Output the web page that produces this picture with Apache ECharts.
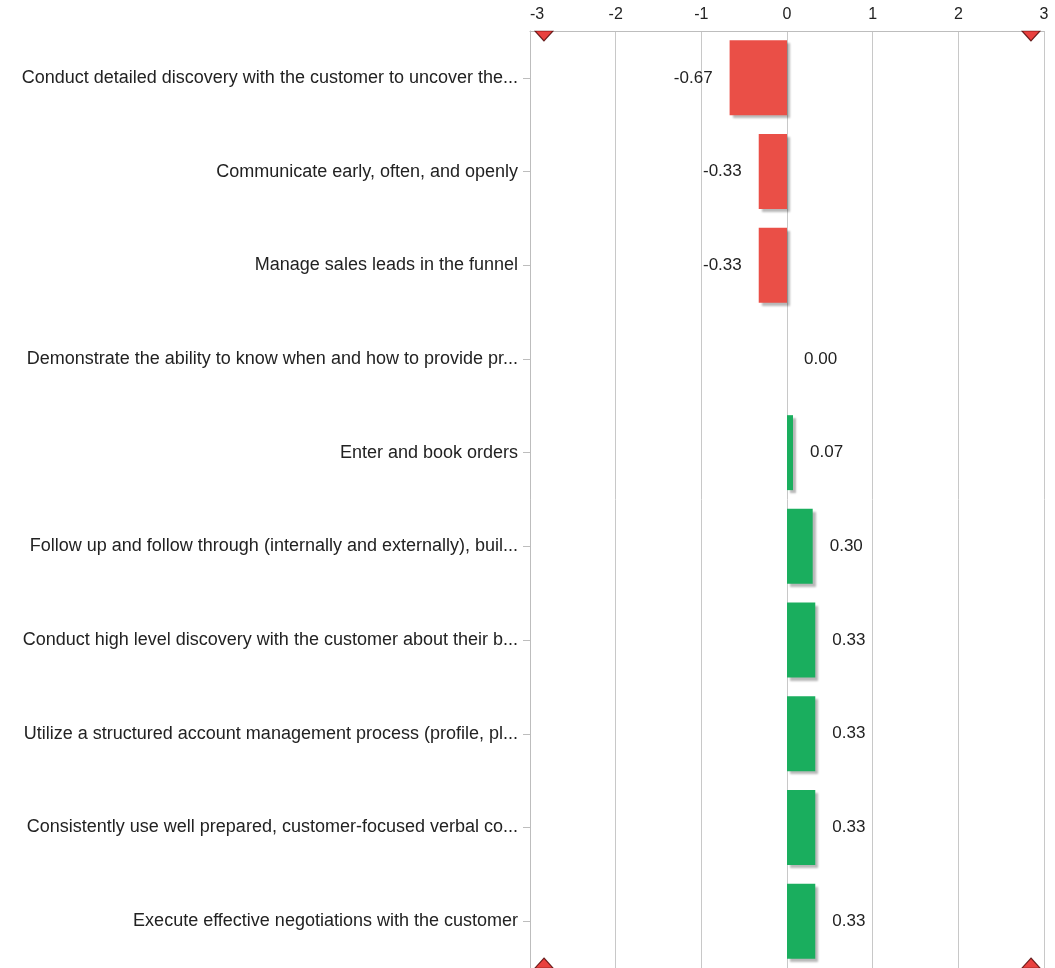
<!DOCTYPE html>
<html>
<head>
<meta charset="utf-8">
<script src="https://cdn.jsdelivr.net/npm/echarts@6/dist/echarts.min.js"></script>
<style>
  html, body { margin: 0; padding: 0; background: #fff; }
  #chart { width: 1055px; height: 968px; }
</style>
</head>
<body>
<div id="chart"></div>
<script>
// Skill gap per competency (top to bottom)
const categories = [
  'Conduct detailed discovery with the customer to uncover the...',
  'Communicate early, often, and openly',
  'Manage sales leads in the funnel',
  'Demonstrate the ability to know when and how to provide pr...',
  'Enter and book orders',
  'Follow up and follow through (internally and externally), buil...',
  'Conduct high level discovery with the customer about their b...',
  'Utilize a structured account management process (profile, pl...',
  'Consistently use well prepared, customer-focused verbal co...',
  'Execute effective negotiations with the customer'
];
const gapValues = [-0.67, -0.33, -0.33, 0.00, 0.07, 0.30, 0.33, 0.33, 0.33, 0.33];
const axisTicks = [-3, -2, -1, 0, 1, 2, 3];
const scaleEnds = [-3, 3];

const RED = '#ea4f47';
const GREEN = '#1aae5e';
const FONT = '"Liberation Sans", Arial, Helvetica, sans-serif';

const chart = echarts.init(document.getElementById('chart'), null, { renderer: 'canvas' });

const barData = gapValues.map(v => ({
  value: v,
  itemStyle: { color: v < 0 ? RED : GREEN },
  label: { position: v < 0 ? 'left' : 'right' }
}));

// end-of-scale markers, nudged just inside the plot frame
function endMarkers(yVal, up) {
  return scaleEnds.map((x, i) => ({
    value: [x, yVal],
    symbolOffset: [i === 0 ? 14 : -13, up ? -5 : 5]
  }));
}
const markerStyle = { color: '#e3120f', borderColor: '#4a0000', borderWidth: 1 };

chart.setOption({
  animation: false,
  backgroundColor: '#fff',
  grid: { left: 530, right: 11, top: 31, bottom: -2, containLabel: false },
  xAxis: [{
    type: 'value',
    position: 'top',
    min: axisTicks[0],
    max: axisTicks[axisTicks.length - 1],
    interval: 1,
    axisLine: { show: true, onZero: false, lineStyle: { color: '#bdbdbd', width: 1 } },
    axisTick: { show: false },
    axisLabel: { color: '#222', fontSize: 16, fontFamily: FONT, margin: 8, alignMinLabel: 'left' },
    splitLine: { show: true, lineStyle: { color: '#c8c8c8', width: 1 } }
  }],
  yAxis: [{
    type: 'category',
    data: categories,
    inverse: true,
    axisLine: { show: true, onZero: false, lineStyle: { color: '#bdbdbd' } },
    axisTick: { show: true, alignWithLabel: true, length: 7, lineStyle: { color: '#bdbdbd' } },
    axisLabel: { color: '#222', fontSize: 18, fontFamily: FONT, margin: 12 },
    splitLine: { show: false }
  }, {
    type: 'value',
    min: 0,
    max: 1,
    show: false
  }],
  series: [{
    type: 'bar',
    data: barData,
    barCategoryGap: '20%',
    itemStyle: {
      shadowColor: 'rgba(0,0,0,0.28)',
      shadowOffsetX: 3,
      shadowOffsetY: 3,
      shadowBlur: 2
    },
    label: {
      show: true,
      distance: 17,
      color: '#222',
      fontSize: 17,
      fontFamily: FONT,
      formatter: p => p.value.toFixed(2)
    }
  }, {
    type: 'scatter',
    yAxisIndex: 1,
    data: endMarkers(1, false),
    symbol: 'triangle',
    symbolRotate: 180,
    symbolSize: [18, 10],
    itemStyle: markerStyle,
    silent: true,
    z: 5
  }, {
    type: 'scatter',
    yAxisIndex: 1,
    data: endMarkers(0, true),
    symbol: 'triangle',
    symbolSize: [18, 10],
    itemStyle: markerStyle,
    silent: true,
    z: 5
  }]
});
</script>
</body>
</html>
